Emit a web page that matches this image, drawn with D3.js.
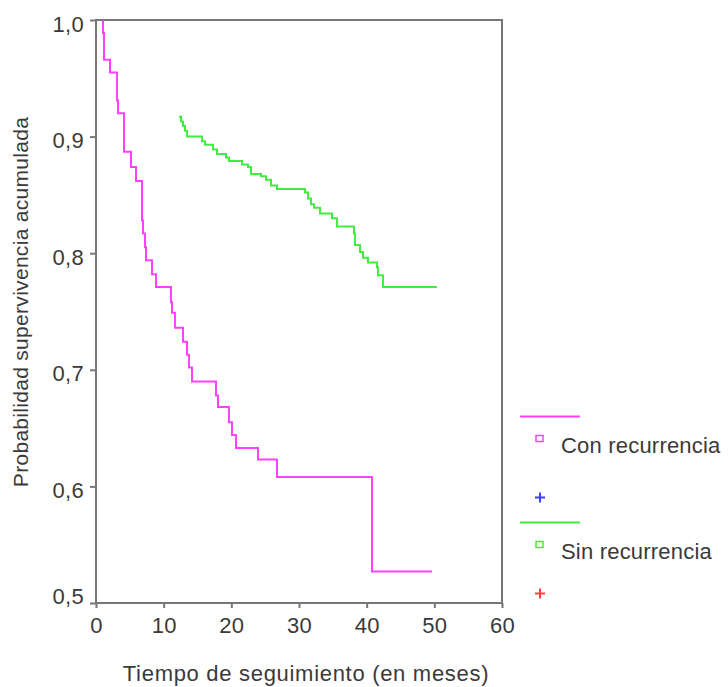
<!DOCTYPE html>
<html>
<head>
<meta charset="utf-8">
<script src="https://cdn.jsdelivr.net/npm/d3@7"></script>
<style>
	body { margin: 0; background: #fff; }
	text { font-family: "Liberation Sans", Arial, sans-serif; fill: #3a3a3a; }
</style>
</head>
<body>
<div class="content"></div>
<script>
// Kaplan-Meier curves (time in months, cumulative survival)
var conTimes = [1.03, 1.03, 1.18, 2.07, 3.1, 3.25, 4.14, 5.17, 5.91, 6.8, 6.95, 7.24, 7.39, 8.28, 8.87, 11.08, 11.23, 11.67, 12.86, 13.45, 13.74, 14.19, 17.73, 18.03, 19.65, 20.1, 20.69, 23.94, 26.75, 40.79, 49.65];
var conValues = [1.0, 0.989, 0.966, 0.955, 0.931, 0.92, 0.887, 0.874, 0.862, 0.828, 0.817, 0.805, 0.794, 0.782, 0.771, 0.758, 0.749, 0.736, 0.724, 0.713, 0.702, 0.69, 0.678, 0.668, 0.655, 0.644, 0.633, 0.623, 0.608, 0.527, 0.527];

var sinTimes = [12.27, 12.56, 12.86, 13.15, 13.45, 15.66, 16.11, 17.29, 17.88, 19.21, 19.65, 21.58, 22.46, 22.91, 24.38, 25.12, 25.86, 26.75, 30.89, 31.33, 31.77, 32.22, 33.1, 34.87, 35.61, 38.13, 38.27, 39.01, 39.46, 40.19, 41.53, 41.67, 42.41, 50.39];
var sinValues = [0.917, 0.913, 0.909, 0.905, 0.9, 0.896, 0.893, 0.889, 0.885, 0.882, 0.879, 0.876, 0.874, 0.868, 0.866, 0.863, 0.858, 0.855, 0.852, 0.847, 0.842, 0.839, 0.834, 0.83, 0.823, 0.817, 0.807, 0.801, 0.796, 0.792, 0.788, 0.781, 0.771, 0.771];

var xTicks = [0, 10, 20, 30, 40, 50, 60];
var yTicks = [0.5, 0.6, 0.7, 0.8, 0.9, 1.0];
var seriesNames = ["Con recurrencia", "Sin recurrencia"];
var seriesColors = ["#ff40ff", "#40ee40"];
var censorColors = ["#4040ff", "#ff4040"];

var svg = d3.select(".content")
	.append("svg")
	.attr("width", 728)
	.attr("height", 687);

var x = d3.scaleLinear().domain([0, 60]).range([96, 502]);
var y = d3.scaleLinear().domain([0.5, 1.0]).range([603, 20]);

// axes
var xAxis = svg.append("g")
	.attr("transform", "translate(0,603)")
	.call(d3.axisBottom(x).tickValues(xTicks).tickSize(5).tickPadding(9));

var yAxis = svg.append("g")
	.attr("transform", "translate(96,0)")
	.call(d3.axisLeft(y).tickValues(yTicks).tickSize(6).tickPadding(6)
		.tickFormat(function(d) { return d.toFixed(1).replace(".", ","); }));

xAxis.selectAll(".domain").remove();
yAxis.selectAll(".domain").remove();
svg.selectAll(".tick line").attr("stroke", "#777").attr("stroke-width", 2);
svg.selectAll(".tick text")
	.style("font-size", "22px")
	.style("letter-spacing", "0.3px")
	.attr("fill", "#3a3a3a");

yAxis.selectAll(".tick text").attr("dy", "0.5em");
// SPSS lifts the bottom label above the x axis
yAxis.selectAll(".tick text")
	.filter(function(d) { return d == 0.5; })
	.attr("dy", "0.02em");

// frame
svg.append("rect")
	.attr("x", x(0))
	.attr("y", y(1.0))
	.attr("width", x(60) - x(0))
	.attr("height", y(0.5) - y(1.0))
	.attr("fill", "none")
	.attr("stroke", "#777")
	.attr("stroke-width", 2);

// survival lines
var line = d3.line()
	.x(function(d) { return x(d[0]); })
	.y(function(d) { return y(d[1]); })
	.curve(d3.curveStepAfter);

var series = [d3.zip(conTimes, conValues), d3.zip(sinTimes, sinValues)];

svg.selectAll("path.km")
	.data(series)
	.enter()
	.append("path")
	.attr("class", "km")
	.attr("d", line)
	.attr("fill", "none")
	.attr("stroke", function(d, i) { return seriesColors[i]; })
	.attr("stroke-width", 2);

// axis titles
svg.append("text")
	.text("Tiempo de seguimiento (en meses)")
	.attr("x", 306)
	.attr("y", 681)
	.attr("text-anchor", "middle")
	.style("font-size", "22px")
	.style("letter-spacing", "0.7px");

svg.append("text")
	.text("Probabilidad supervivencia acumulada")
	.attr("transform", "translate(28,302) rotate(-90)")
	.attr("text-anchor", "middle")
	.style("font-size", "21px")
	.style("letter-spacing", "0.3px");

// legend
var legend = svg.selectAll("g.legend")
	.data(seriesNames)
	.enter()
	.append("g")
	.attr("class", "legend")
	.attr("transform", function(d, i) { return "translate(0," + (i * 106) + ")"; });

legend.append("line")
	.attr("x1", 520)
	.attr("x2", 580)
	.attr("y1", 416.5)
	.attr("y2", 416.5)
	.attr("stroke", function(d, i) { return seriesColors[i]; })
	.attr("stroke-width", 2);

legend.append("rect")
	.attr("x", 536)
	.attr("y", 435.5)
	.attr("width", 7)
	.attr("height", 6)
	.attr("fill", "none")
	.attr("stroke", function(d, i) { return seriesColors[i]; })
	.attr("stroke-width", 1.5);

legend.append("text")
	.text(function(d) { return d; })
	.attr("x", 561)
	.attr("y", 453)
	.style("font-size", "22px")
	.style("letter-spacing", "0.2px");

// censor marks sit a little closer together than the rest of the legend
legend.append("path")
	.attr("d", "M535,497.5h10M540,492.5v10")
	.attr("transform", function(d, i) { return "translate(0," + (-i * 10) + ")"; })
	.attr("stroke", function(d, i) { return censorColors[i]; })
	.attr("stroke-width", 2);
</script>
</body>
</html>
